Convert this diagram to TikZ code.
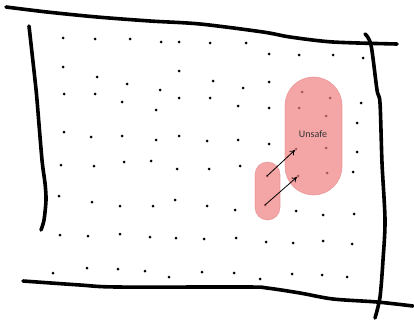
\documentclass[tikz,border=0pt]{standalone}
\usepackage{fontspec}
\newfontfamily\labelfont{Carlito}
\usetikzlibrary{arrows.meta}
\definecolor{pillfill}{RGB}{240,128,128}
\definecolor{pillborder}{RGB}{225,125,130}
\tikzset{
  border/.style={line width=3.6pt, line cap=round, line join=round, black},
  dotmark/.style={fill=black},
  pill/.style={fill=pillfill, fill opacity=0.7, draw=pillborder, draw opacity=0.6, line width=0.6pt},
  movearrow/.style={line width=0.8pt, -{To[length=5pt,width=6pt]}},
}
\begin{document}
\begin{tikzpicture}[x=1pt,y=-1pt]
\useasboundingbox (0,0) rectangle (414,321);
% hand-drawn frame
\draw[border] plot[smooth, tension=0.5] coordinates {(6,7) (47,12) (97,17) (150,21) (200,24) (263,32) (290,37) (333,42) (397,44)};
\draw[border] plot[smooth, tension=0.5] coordinates {(29,26) (35,80) (37,100) (42,160) (45,183) (46,200) (44,220) (41,230)};
\draw[border] plot[smooth, tension=0.5] coordinates {(365,34) (371,45) (377,90) (380,103) (382,163) (385,220) (383,260) (380,297) (375,318)};
\draw[border] plot[smooth, tension=0.5] coordinates {(23,281) (80,285) (117,287) (247,287) (267,288) (300,293) (333,299) (377,302) (413,306)};
% dots
\foreach \p in {
 (63,38),(95,39),(130,39),(161,42),(179,42),(210,43),(246,43),(269,54),(299,55),(333,55),(363,58),
 (63,67),(179,71),(97,77),(127,84),(160,90),(213,81),(243,88),(269,82),(64,94),(95,94),(179,98),(210,98),(122,102),(156,110),(238,106),(269,108),
 (302,92),(330,98),(299,108),(326,116),(296,149),(326,148),(298,176),(327,173),
 (361,103),(357,123),(357,152),(353,172),
 (64,132),(91,137),(122,136),(156,140),(179,136),(207,141),(238,140),(269,144),
 (61,165),(94,166),(124,162),(151,161),(177,169),(209,169),(240,166),
 (267,176),(265,205),
 (59,196),(92,202),(120,206),(153,206),(175,200),(207,206),(235,210),
 (296,211),(323,215),(354,214),
 (60,235),(88,236),(120,234),(150,237),(176,238),(204,239),(236,238),(266,242),(293,243),(323,241),(352,244),
 (53,273),(87,268),(118,269),(145,271),(169,277),(202,272),(234,273),(260,279),(292,274),(322,275),(347,277)}
 \fill[dotmark] \p circle (1.5);
% unsafe regions
\path[pill, rounded corners=28.5pt] (285,77) rectangle (342,195);
\path[pill, rounded corners=12.5pt] (255,162) rectangle (280,220);
\node[font=\labelfont\fontsize{10}{12}\selectfont, text=black!80] (unsafe) at (313,134) {Unsafe};
% moves
\coordinate (s1) at (267,176);
\coordinate (t1) at (295,150);
\coordinate (s2) at (265,205);
\coordinate (t2) at (297,177);
\draw[movearrow] (s1) -- (t1);
\draw[movearrow] (s2) -- (t2);
\end{tikzpicture}
\end{document}
